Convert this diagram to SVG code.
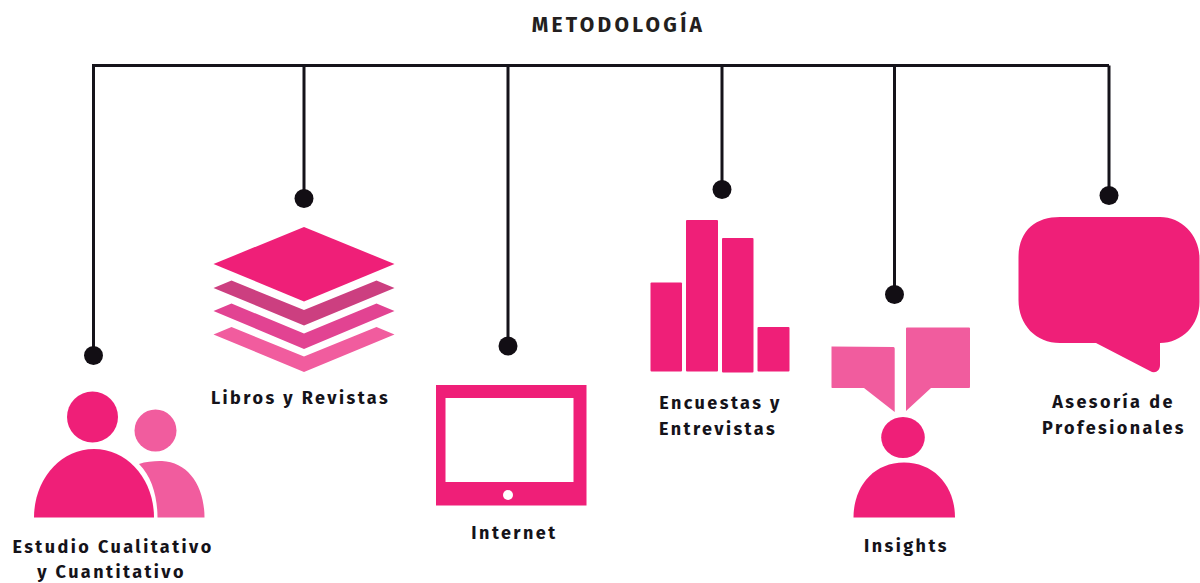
<svg xmlns="http://www.w3.org/2000/svg" width="1200" height="583" viewBox="0 0 1200 583">
<style>
.t{font-family:"Fira Sans","Open Sans","Noto Sans",sans-serif;font-weight:700;fill:#15131a;text-anchor:middle;font-size:18px;letter-spacing:2.45px}
.h{font-size:21px;letter-spacing:3.3px;fill:#231f20}
.p{fill:#ef1f78}.l{fill:#f15c9e}
.c{stroke:#15131a;stroke-width:3;fill:none}
.d{fill:#120e14}
</style>
<rect width="1200" height="583" fill="#fff"/>
<g id="connectors">
<path class="c" d="M93.500 355V65.500H1109M304 65.500V198M508 65.500V346M722 65.500V189M894.500 65.500V294M1109 65.500V195"/>
<circle class="d" cx="93.500" cy="355.500" r="9.500"/><circle class="d" cx="304" cy="198.500" r="9.500"/><circle class="d" cx="508" cy="346" r="9.500"/><circle class="d" cx="722" cy="189.500" r="9.500"/><circle class="d" cx="894.500" cy="294.500" r="9.500"/><circle class="d" cx="1109" cy="195.500" r="9.500"/>
</g>
<text id="title" class="t h" x="618.500" y="32">METODOLOGÍA</text>
<g id="n1">
<circle class="l" cx="155.500" cy="430.500" r="21"/>
<path class="l" d="M139 464C146 461.500 155 460.800 162 461C188 462 204.500 486 204.500 517.500H157.500C157.500 497 152 477 139 464Z"/>
<circle class="p" cx="92.500" cy="417" r="25.500"/>
<path class="p" d="M34 517.500C34 480 60 449 94 449C128 449 154 480 154 517.500Z"/>
<text class="t" x="113" y="553">Estudio Cualitativo</text><text class="t" x="111.500" y="578">y Cuantitativo</text>
</g>
<g id="n2">
<path fill="#f15c9e" d="M213.500 334.500L231.500 327L304 356.500L376.500 327L394.500 334.500L304 372Z"/>
<path fill="#e24392" d="M213.500 311L231.500 303.500L304 333.500L376.500 303.500L394.500 311L304 349Z"/>
<path fill="#cc3f80" d="M213.500 288L231.500 280.500L304 310L376.500 280.500L394.500 288L304 325.500Z"/>
<path class="p" d="M213.500 264L304 227L394.500 264L304 301.500Z"/>
<text class="t" x="300.500" y="404">Libros y Revistas</text>
</g>
<g id="n3">
<path class="p" fill-rule="evenodd" d="M436 385H586.500V505.500H436ZM445.500 398V482H573.500V398Z"/>
<circle cx="508" cy="495" r="5" fill="#fff"/>
<text class="t" x="514.500" y="539">Internet</text>
</g>
<g id="n4">
<rect class="p" x="650.500" y="282.500" width="31.500" height="89" rx="1"/>
<rect class="p" x="686" y="220" width="32" height="151.500" rx="1"/>
<rect class="p" x="722" y="238" width="31.500" height="134.500" rx="1"/>
<rect class="p" x="757.500" y="327" width="32" height="44.500" rx="1"/>
<text class="t" x="720.500" y="409">Encuestas y</text><text class="t" x="718" y="435">Entrevistas</text>
</g>
<g id="n5">
<path class="l" d="M831.500 346.500L893.500 347Q894.700 347 894.700 348.500V412L864 388H832Q831.500 388 831.500 387Z"/>
<path class="l" d="M906 328.500Q906 327.500 907 327.500H969Q970 327.500 970 328.500V387Q970 388 969 388H931L906 411Z"/>
<ellipse class="p" cx="903" cy="437.500" rx="21.800" ry="20.500"/>
<path class="p" d="M853.500 517.500C853.500 487 873 462.500 904 462.500C935 462.500 955 487 955 517.500Z"/>
<text class="t" x="906.500" y="552">Insights</text>
</g>
<g id="n6">
<path class="p" d="M1060 217H1160C1182 217 1199.500 236 1199.500 258V302C1199.500 325 1182 343 1160 343V365C1160 371 1155 374 1150 371L1096 343H1060C1036 343 1018.500 325 1018.500 300V258C1018.500 230 1036 217 1060 217Z"/>
<text class="t" x="1113.500" y="408">Asesoría de</text><text class="t" x="1114" y="434">Profesionales</text>
</g>
</svg>
